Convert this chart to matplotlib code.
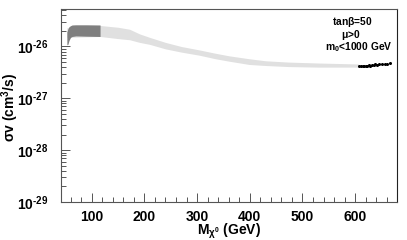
import matplotlib
matplotlib.use("Agg")
import matplotlib.pyplot as plt
from matplotlib.ticker import FixedLocator, FuncFormatter, LogLocator, NullFormatter
import numpy as np

plt.rcParams['font.family'] = ['Liberation Sans', 'DejaVu Sans']
plt.rcParams['font.weight'] = 'bold'
plt.rcParams['mathtext.fontset'] = 'custom'
plt.rcParams['mathtext.rm'] = 'Liberation Sans:bold'
plt.rcParams['mathtext.it'] = 'Liberation Sans:bold:italic'
plt.rcParams['mathtext.bf'] = 'Liberation Sans:bold'
plt.rcParams['mathtext.sf'] = 'Liberation Sans:bold'
plt.rcParams['mathtext.default'] = 'rm'

# light-gray allowed band (units of 1e-26 cm^3/s)
light_x = [53, 116, 150, 172, 191, 210, 240, 270, 304, 335, 361, 399, 430, 474, 531, 606]
light_hi = [2.3, 2.54, 2.35, 2.15, 1.75, 1.5, 1.2, 1.0, 0.86, 0.74, 0.66, 0.58, 0.53, 0.50, 0.48, 0.46]
light_lo = [1.5, 1.56, 1.42, 1.35, 1.2, 1.1, 0.9, 0.78, 0.68, 0.58, 0.52, 0.45, 0.43, 0.41, 0.40, 0.40]

# dark-gray band
dark_x = [53, 55, 57, 60, 63, 70, 90, 116]
dark_hi = [1.9, 2.2, 2.4, 2.52, 2.6, 2.62, 2.62, 2.6]
dark_lo = [1.08, 1.1, 1.3, 1.5, 1.56, 1.6, 1.58, 1.56]

# black points
pts_x = [608, 611, 614, 617, 620, 623, 626, 629, 632, 635, 638, 642, 646, 651, 656, 661, 667]
pts_y = [0.42, 0.42, 0.43, 0.42, 0.43, 0.43, 0.44, 0.43, 0.44, 0.44, 0.45, 0.44, 0.45, 0.46, 0.45, 0.46, 0.47]

scale = 1e-26
xticks_major = [100, 200, 300, 400, 500, 600]
yticks_major = [1e-29, 1e-28, 1e-27, 1e-26]

fig = plt.figure(figsize=(4.07, 2.40), dpi=100)
ax = fig.add_axes([0.150, 0.158, 0.825, 0.803])

ax.fill_between(light_x, np.array(light_lo) * scale, np.array(light_hi) * scale,
                color='#e0e0e0', linewidth=0)
ax.fill_between(dark_x, np.array(dark_lo) * scale, np.array(dark_hi) * scale,
                color='#7f7f7f', linewidth=0)
ax.plot(pts_x, np.array(pts_y) * scale, 'o', color='black', markersize=2.2,
        markeredgewidth=0)

ax.set_yscale('log')
ax.set_xlim(42, 679)
ax.set_ylim(1e-29, 5.2e-26)

ax.xaxis.set_major_locator(FixedLocator(xticks_major))
ax.xaxis.set_minor_locator(FixedLocator([v for v in range(60, 680, 20) if v % 100]))
ax.yaxis.set_major_locator(FixedLocator(yticks_major))
ax.yaxis.set_minor_locator(LogLocator(base=10, subs=np.arange(2, 10)))
ax.yaxis.set_minor_formatter(NullFormatter())
ax.yaxis.set_major_formatter(FuncFormatter(
    lambda v, p: r'$10^{\text{-%d}}$' % abs(int(round(np.log10(v))))))

ax.tick_params(axis='both', which='major', direction='in', length=6.3, width=0.7,
               color='#555555', labelsize=10, pad=5.5)
ax.tick_params(axis='both', which='minor', direction='in', length=3.4, width=0.7,
               color='#555555')
ax.tick_params(axis='y', which='major', pad=9, labelsize=10)
ax.tick_params(top=False, right=False, which='both')

for s in ax.spines.values():
    s.set_color('#555555')
    s.set_linewidth(0.8)
ax.spines['right'].set_color('#222222')

ax.set_xlabel(r'M$_{\chi^0}$ (GeV)', fontsize=10, fontweight='bold')
ax.xaxis.set_label_coords(0.5, -0.102)
ax.set_ylabel(r'$\sigma$v (cm$^3$/s)', fontsize=10, fontweight='bold')
ax.yaxis.set_label_coords(-0.152, 0.49)
ax.yaxis.label.set_va('center')

ax.text(0.866, 0.935, r'tan$\beta$=50', transform=ax.transAxes, ha='center',
        va='center', fontsize=7.4, fontweight='bold')
ax.text(0.863, 0.868, r'$\mu$>0', transform=ax.transAxes, ha='center',
        va='center', fontsize=7.4, fontweight='bold')
ax.text(0.887, 0.802, r'm$_0$<1000 GeV', transform=ax.transAxes, ha='center',
        va='center', fontsize=7.4, fontweight='bold')

fig.savefig('out.png', dpi=100)
